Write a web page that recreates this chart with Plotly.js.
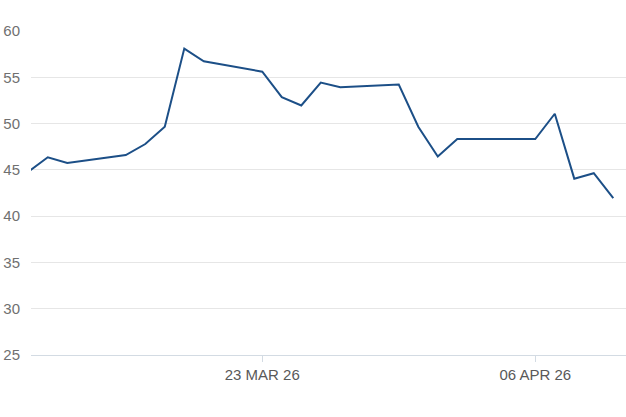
<!DOCTYPE html>
<html>
<head>
<meta charset="utf-8">
<script src="https://cdn.plot.ly/plotly-3.0.1.min.js"></script>
<style>html,body{margin:0;padding:0;background:#fff;}#chart{width:626px;height:417px;}</style>
</head>
<body>
<div id="chart"></div>
<script>
const dates = ['2026-03-11','2026-03-12','2026-03-13','2026-03-16','2026-03-17','2026-03-18','2026-03-19','2026-03-20',
  '2026-03-23','2026-03-24','2026-03-25','2026-03-26','2026-03-27','2026-03-30','2026-03-31','2026-04-01','2026-04-02',
  '2026-04-06','2026-04-07','2026-04-08','2026-04-09','2026-04-10'];
const values = [44.8,46.36,45.74,46.6,47.79,49.67,58.1,56.73,
  55.6,52.85,51.95,54.42,53.93,54.22,49.66,46.45,48.33,
  48.33,51.06,44.05,44.64,41.94];
const yTicks = [25,30,35,40,45,50,55,60];
const xTicks = ['2026-03-23','2026-04-06'];
const xTickLabels = ['23 MAR 26','06 APR 26'];

Plotly.newPlot('chart', [{
  x: dates, y: values, type: 'scatter', mode: 'lines',
  line: {color: '#1c4f87', width: 2},
  hoverinfo: 'none'
}], {
  width: 626, height: 417,
  margin: {l: 31, r: 0, t: 31, b: 62},
  paper_bgcolor: '#fff', plot_bgcolor: '#fff',
  showlegend: false,
  font: {family: 'Liberation Sans, Arial, sans-serif', color: '#666', size: 15},
  xaxis: {
    type: 'date',
    range: ['2026-03-11 03:20', '2026-04-10 15:40'],
    tickmode: 'array', tickvals: xTicks, ticktext: xTickLabels,
    showgrid: false, zeroline: false,
    showline: true, linecolor: '#d3dbe3', linewidth: 1,
    ticks: 'outside', ticklen: 6, tickcolor: '#d3dbe3', tickwidth: 1,
    tickfont: {size: 15, color: '#595959'}
  },
  yaxis: {
    range: [25, 60],
    tickmode: 'array', tickvals: yTicks,
    showgrid: true, gridcolor: '#e6e6e6', gridwidth: 1,
    zeroline: false, showline: false, ticks: '',
    ticklabelstandoff: 10,
    tickfont: {size: 15, color: '#707070'}
  }
}, {staticPlot: true});
</script>
</body>
</html>
